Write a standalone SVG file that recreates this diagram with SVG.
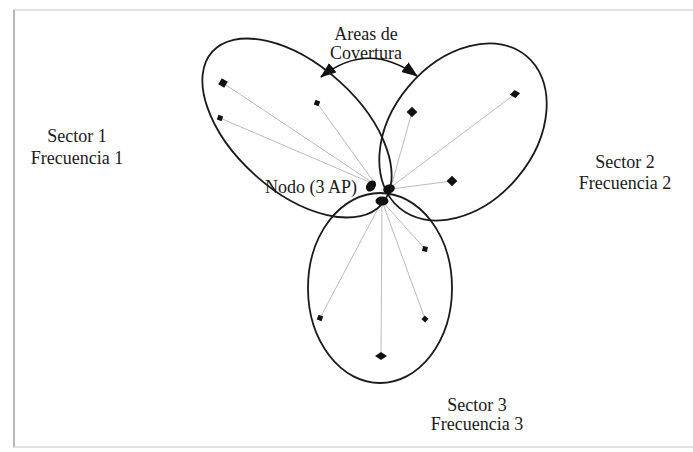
<svg xmlns="http://www.w3.org/2000/svg" width="693" height="452" viewBox="0 0 693 452">
<defs>
<style>
.lbl{font-family:"Liberation Serif","Times New Roman",serif;font-size:18px;fill:#1a1a1a;text-anchor:middle}
.sector{fill:none;stroke:#1a1a1a;stroke-width:1.8}
.link{stroke:#bbb;stroke-width:1}
.dev{fill:#111}
.ap{fill:#111}
</style>
<marker id="ah" viewBox="0 0 16 12" refX="15" refY="6" markerWidth="16" markerHeight="12" markerUnits="userSpaceOnUse" orient="auto-start-reverse">
<path d="M0,0 L16,6 L0,12 Z" fill="#111"/>
</marker>
</defs>
<rect x="0" y="0" width="693" height="452" fill="#fff"/>
<rect x="14" y="10" width="690" height="437" fill="#fff" stroke="#e2e2e2" stroke-width="2"/>
<line x1="14" y1="10" x2="14" y2="447" stroke="#b8b8b8" stroke-width="2"/>

<g id="connectors">
<line class="link" x1="223" y1="83" x2="376" y2="185"/>
<line class="link" x1="317" y1="103" x2="376" y2="185"/>
<line class="link" x1="220" y1="118" x2="376" y2="185"/>
<line class="link" x1="412" y1="112" x2="391" y2="187"/>
<line class="link" x1="515" y1="94" x2="391" y2="187"/>
<line class="link" x1="452" y1="181" x2="391" y2="189"/>
<line class="link" x1="382" y1="201" x2="425" y2="249"/>
<line class="link" x1="382" y1="201" x2="320" y2="318"/>
<line class="link" x1="382" y1="201" x2="425" y2="319"/>
<line class="link" x1="382" y1="201" x2="381" y2="356"/>
<path d="M321,77 Q368,40 417,76" fill="none" stroke="#111" stroke-width="1.6" marker-start="url(#ah)" marker-end="url(#ah)"/>
</g>

<g id="sector1">
<ellipse class="sector" cx="297" cy="128" rx="114" ry="63" transform="rotate(42 297 128)"/>
<text class="lbl" x="77" y="142">Sector 1</text>
<text class="lbl" x="77" y="164">Frecuencia 1</text>
</g>
<g id="sector2">
<ellipse class="sector" cx="463" cy="132" rx="99" ry="71" transform="rotate(-50 463 132)"/>
<text class="lbl" x="625" y="168">Sector 2</text>
<text class="lbl" x="625" y="189">Frecuencia 2</text>
</g>
<g id="sector3">
<ellipse class="sector" cx="380" cy="288" rx="72" ry="95"/>
<text class="lbl" x="477" y="411">Sector 3</text>
<text class="lbl" x="477" y="430">Frecuencia 3</text>
</g>

<g id="coverage-label">
<text class="lbl" x="366" y="40">Areas de</text>
<text class="lbl" x="366" y="59">Covertura</text>
</g>

<g id="node">
<ellipse class="ap" cx="371" cy="186" rx="6" ry="4.5" transform="rotate(-55 371 186)"/>
<ellipse class="ap" cx="389" cy="189" rx="6" ry="4.5" transform="rotate(-20 389 189)"/>
<ellipse class="ap" cx="382" cy="201" rx="6.5" ry="4.5"/>
<text class="lbl" x="311" y="193">Nodo (3 AP)</text>
</g>

<g id="devices">
<g id="d1"><rect class="dev" x="-3.5" y="-3.5" width="7" height="7" transform="translate(223 83) rotate(30)"/></g>
<g id="d2"><rect class="dev" x="-2.5" y="-2.5" width="5" height="5" transform="translate(317 103) rotate(20)"/></g>
<g id="d3"><rect class="dev" x="-2.5" y="-2.5" width="5" height="5" transform="translate(220 118) rotate(20)"/></g>
<g id="d4"><rect class="dev" x="-3.8" y="-3.8" width="7.6" height="7.6" transform="translate(412 112) rotate(45)"/></g>
<g id="d5"><rect class="dev" x="-3.2" y="-3.2" width="6.4" height="6.4" transform="translate(515 94) rotate(30) skewX(-15)"/></g>
<g id="d6"><rect class="dev" x="-3.8" y="-3.8" width="7.6" height="7.6" transform="translate(452 181) rotate(45)"/></g>
<g id="d7"><rect class="dev" x="-2.5" y="-2.5" width="5" height="5" transform="translate(425 249) rotate(10)"/></g>
<g id="d8"><rect class="dev" x="-2.5" y="-2.5" width="5" height="5" transform="translate(320 318) rotate(20)"/></g>
<g id="d9"><rect class="dev" x="-2.5" y="-2.5" width="5" height="5" transform="translate(425 319) rotate(40)"/></g>
<g id="d10"><path class="dev" d="M375,356 L381,352 L387,356 L381,360 Z"/></g>
</g>
</svg>
